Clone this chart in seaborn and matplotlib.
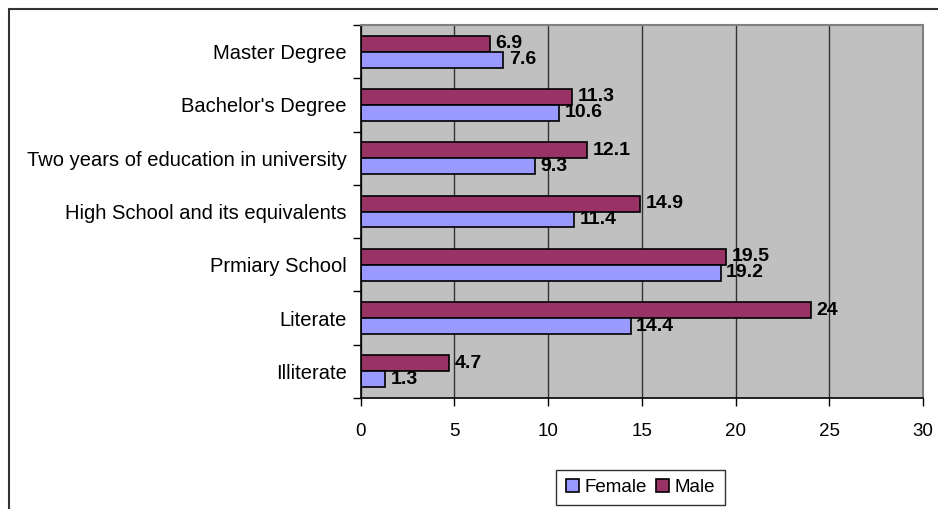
import matplotlib
matplotlib.use("Agg")
import matplotlib.pyplot as plt
from matplotlib.lines import Line2D
from matplotlib.patches import Patch
from matplotlib.ticker import FixedLocator
import numpy as np
import pandas as pd
import seaborn as sns

categories = [
    "Master Degree",
    "Bachelor's Degree",
    "Two years of education in university",
    "High School and its equivalents",
    "Prmiary School",
    "Literate",
    "Illiterate",
]
female = [7.6, 10.6, 9.3, 11.4, 19.2, 14.4, 1.3]
male = [6.9, 11.3, 12.1, 14.9, 19.5, 24, 4.7]
x_ticks = [0, 5, 10, 15, 20, 25, 30]

female_color = "#9999FF"
male_color = "#993366"

df = pd.DataFrame({
    "level": categories * 2,
    "value": male + female,
    "sex": ["Male"] * len(categories) + ["Female"] * len(categories),
})

sns.set_theme(style="white")
plt.rcParams["font.family"] = ["Liberation Sans", "DejaVu Sans"]
plt.rcParams["text.color"] = "black"
plt.rcParams["xtick.color"] = "black"
plt.rcParams["ytick.color"] = "black"

fig = plt.figure(figsize=(9.38, 5.09), dpi=100)
ax = fig.add_axes([360.7 / 938, 1 - 398 / 509, (923 - 360.7) / 938, (398 - 25) / 509])
ax.set_facecolor("#C0C0C0")

sns.barplot(
    data=df, y="level", x="value", hue="sex", order=categories,
    hue_order=["Male", "Female"], palette={"Male": male_color, "Female": female_color},
    orient="h", width=0.6, edgecolor="black", linewidth=1.2, saturation=1,
    legend=False, ax=ax,
)

# value labels at the end of each bar
for cont in ax.containers:
    ax.bar_label(cont, labels=[f"{v:g}" for v in cont.datavalues], padding=4,
                 fontsize=14, fontweight="bold", color="black")

ax.set_xlim(0, 30)
ax.set_ylim(len(categories) - 0.5, -0.5)
ax.set_xticks(x_ticks)
ax.set_xticklabels([str(t) for t in x_ticks])
ax.xaxis.grid(True, color="#333333", linewidth=1)
ax.yaxis.grid(False)
ax.set_axisbelow(True)
ax.set_xlabel("")
ax.set_ylabel("")

ax.tick_params(axis="x", direction="out", length=6, width=1, color="black",
               labelsize=13.5, pad=12, bottom=True, labelcolor="black")
ax.tick_params(axis="y", which="major", length=0, labelsize=14.5, pad=10, labelcolor="black")
ax.yaxis.set_minor_locator(FixedLocator(np.arange(-0.5, len(categories), 1.0)))
ax.tick_params(axis="y", which="minor", direction="out", length=6, width=1,
               color="black", left=True)

for side in ("left", "bottom"):
    ax.spines[side].set_color("black")
    ax.spines[side].set_linewidth(1.2)
for side in ("top", "right"):
    ax.spines[side].set_color("#808080")
    ax.spines[side].set_linewidth(1.5)

handles = [
    Patch(facecolor=female_color, edgecolor="black", linewidth=1.2, label="Female"),
    Patch(facecolor=male_color, edgecolor="black", linewidth=1.2, label="Male"),
]
leg = fig.legend(handles=handles, loc="center", bbox_to_anchor=(640.5 / 938, 1 - 487.5 / 509),
                 ncol=2, fontsize=13.5, frameon=True, fancybox=False, handlelength=0.7,
                 handleheight=0.7, handletextpad=0.3, columnspacing=0.5,
                 borderpad=0.5, borderaxespad=0)
leg.get_frame().set_edgecolor("black")
leg.get_frame().set_linewidth(1)

# outer chart frame
fig.add_artist(Line2D([8.5 / 938, 8.5 / 938], [1 - 8.5 / 509, 0], transform=fig.transFigure,
                      color="#333333", linewidth=1.5))
fig.add_artist(Line2D([8.5 / 938, 1], [1 - 8.5 / 509, 1 - 8.5 / 509], transform=fig.transFigure,
                      color="#333333", linewidth=1.5))

fig.savefig("out.png", dpi=100)
